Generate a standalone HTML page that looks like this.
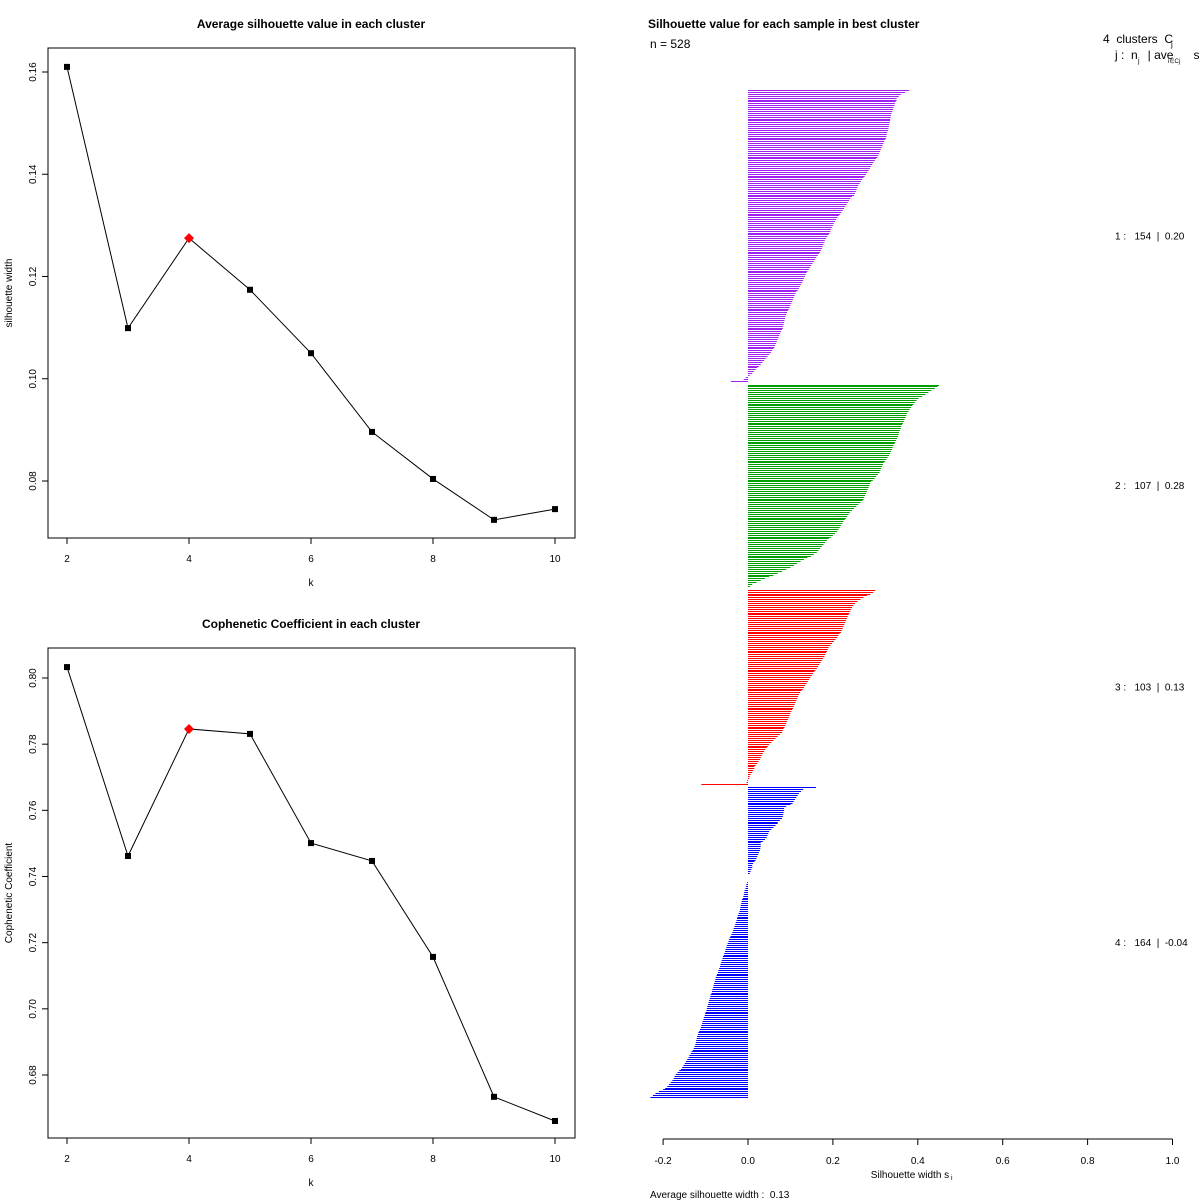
<!DOCTYPE html>
<html><head><meta charset="utf-8"><style>
html,body{margin:0;padding:0;background:#fff;}
svg{display:block;font-family:"Liberation Sans",sans-serif;}
text{white-space:pre;}
</style></head><body>
<svg id="s" width="1200" height="1200" viewBox="0 0 1200 1200" xmlns="http://www.w3.org/2000/svg"></svg>
<script>
const ks=[2,3,4,5,6,7,8,9,10];
const silAvg=[0.1610,0.1099,0.1275,0.1174,0.1050,0.0896,0.0804,0.0724,0.0745];
const coph=[0.8033,0.7462,0.7846,0.7831,0.7501,0.7447,0.7157,0.6734,0.6661];
const bestK=4;
const silTicks=[0.08,0.10,0.12,0.14,0.16];
const copTicks=[0.68,0.70,0.72,0.74,0.76,0.78,0.80];
const kTicks=[2,4,6,8,10];
const sTicks=[-0.2,0,0.2,0.4,0.6,0.8,1.0];
const clusterNames=["1","2","3","4"];
const clusterAvg=["0.20","0.28","0.13","-0.04"];
const clusterColors=["#a020f0","#00a000","#ff0000","#0000ff"];
const c1=[0.38,0.37,0.36,0.355,0.35,0.35,0.348,0.346,0.345,0.343,0.342,0.34,0.338,0.337,0.336,0.335,0.335,0.334,0.333,0.332,0.331,0.33,0.328,0.327,0.326,0.325,0.323,0.321,0.319,0.317,0.315,0.313,0.311,0.309,0.307,0.305,0.302,0.299,0.296,0.293,0.29,0.287,0.284,0.281,0.278,0.275,0.272,0.269,0.266,0.263,0.26,0.258,0.256,0.254,0.252,0.25,0.245,0.241,0.238,0.235,
0.232,0.229,0.226,0.223,0.22,0.217,0.214,0.211,0.208,0.205,0.202,0.2,0.198,0.196,0.194,0.192,0.19,0.187,0.184,0.181,
0.18,0.178,0.176,0.174,0.172,0.17,0.167,0.164,0.161,0.158,0.155,0.152,0.149,0.146,0.143,0.14,0.138,0.136,0.134,0.132,
0.13,0.128,0.125,0.122,0.12,0.117,0.114,0.112,0.11,0.108,0.106,0.104,0.102,0.1,0.098,0.096,0.094,0.092,0.09,0.088,
0.087,0.086,0.085,0.084,0.083,0.082,0.08,0.078,0.076,0.074,0.072,0.07,0.068,0.066,0.064,0.062,0.06,0.057,0.054,0.05,
0.046,0.042,0.038,0.034,0.03,0.026,0.022,0.018,0.014,0.01,0.004,-0.005,-0.01,-0.04];
const c2=[0.45,0.447,0.44,0.432,0.425,0.418,0.41,0.402,0.397,0.393,0.39,0.387,0.384,0.381,0.378,0.375,0.373,0.371,0.369,0.367,0.365,0.363,0.361,0.36,0.358,0.356,0.355,0.353,0.351,0.349,0.347,0.345,0.343,0.341,0.339,0.337,0.335,0.332,0.329,0.326,0.323,0.32,0.318,0.316,0.314,0.312,0.31,0.306,0.302,0.298,0.294,0.29,0.288,0.286,0.284,0.282,0.28,0.278,0.276,0.274,
0.272,0.27,0.265,0.26,0.255,0.25,0.245,0.24,0.237,0.234,0.231,0.228,0.225,0.222,0.219,0.216,0.213,0.21,0.205,0.2,
0.195,0.19,0.186,0.182,0.178,0.174,0.17,0.166,0.162,0.155,0.148,0.14,0.132,0.124,0.116,0.108,0.1,0.09,0.08,0.07,0.06,0.05,0.04,0.03,0.02,0.01,0.005];
const c3=[0.3,0.295,0.288,0.28,0.272,0.265,0.258,0.252,0.248,0.245,0.243,0.241,0.239,0.237,0.235,0.233,0.231,0.229,0.227,0.225,0.223,0.221,0.219,0.216,0.213,0.21,0.206,0.202,0.198,0.194,
0.19,0.188,0.186,0.184,0.182,0.18,0.177,0.174,0.171,0.168,0.165,0.162,0.159,0.156,0.153,0.15,0.147,0.144,0.141,0.138,
0.135,0.132,0.129,0.126,0.123,0.12,0.118,0.116,0.114,0.112,0.11,0.108,0.106,0.104,0.102,0.1,0.098,0.096,0.094,0.092,
0.09,0.088,0.086,0.084,0.082,0.08,0.075,0.07,0.065,0.06,0.055,0.05,0.047,0.044,0.041,0.038,0.035,0.032,0.03,0.028,
0.025,0.022,0.018,0.015,0.015,0.012,0.01,0.006,0.004,0.003,-0.002,-0.003,-0.11];
const c4=[0.16,0.13,0.125,0.12,0.117,0.114,0.111,0.108,0.105,0.1,0.09,0.085,0.085,0.084,0.083,0.082,0.08,0.075,0.07,0.07,0.065,0.06,0.055,0.05,0.048,0.046,0.044,0.04,0.035,0.03,0.03,0.03,0.029,0.028,0.026,0.024,0.022,0.02,0.018,0.015,0.012,0.01,0.01,0.008,0.006,0.004,
0,0,0,0,
-0.002,-0.004,-0.005,-0.006,-0.008,-0.009,-0.01,-0.011,-0.012,-0.014,
-0.015,-0.016,-0.017,-0.018,-0.019,-0.02,-0.022,-0.024,-0.025,-0.026,
-0.027,-0.029,-0.03,-0.032,-0.034,-0.035,-0.037,-0.039,-0.041,-0.043,
-0.045,-0.046,-0.048,-0.05,-0.051,-0.053,-0.054,-0.056,-0.057,-0.059,
-0.06,-0.062,-0.063,-0.065,-0.066,-0.068,-0.07,-0.071,-0.073,-0.074,
-0.076,-0.077,-0.078,-0.08,-0.081,-0.082,-0.084,-0.085,-0.086,-0.088,
-0.089,-0.09,-0.092,-0.093,-0.094,-0.096,-0.097,-0.098,-0.1,-0.101,
-0.102,-0.104,-0.105,-0.107,-0.108,-0.11,-0.111,-0.113,-0.115,-0.117,
-0.118,-0.12,-0.121,-0.122,-0.123,-0.124,-0.126,-0.128,-0.13,-0.133,
-0.135,-0.138,-0.14,-0.143,-0.146,-0.149,-0.152,-0.155,-0.158,-0.162,
-0.166,-0.17,-0.173,-0.175,-0.178,-0.182,-0.186,-0.19,-0.195,-0.2,
-0.21,-0.218,-0.224,-0.23];
const clusters=[c1,c2,c3,c4];

const svg=document.getElementById('s');
const NS="http://www.w3.org/2000/svg";
function el(tag,attrs,parent){const e=document.createElementNS(NS,tag);for(const k in attrs)e.setAttribute(k,attrs[k]);(parent||svg).appendChild(e);return e;}
function txt(str,attrs,parent){const t=el('text',attrs,parent);t.textContent=str;return t;}

function linePanel(name,title,ytitle,top,ymin,ymax,pyMax,pyMin,vals,yt){
  const g=el('g',{});
  
  
  const L=48,R=575,T=top,B=top+490;
  const xs=k=>67+(k-2)*61;
  const ys=v=>pyMax+(ymax-v)/(ymax-ymin)*(pyMin-pyMax);
  const box=el('rect',{x:L,y:T,width:R-L,height:B-T,fill:'none',stroke:'#000','stroke-width':1},g);
  
  
  const tt=txt(title,{x:311,y:T-20,'text-anchor':'middle','font-size':12,'font-weight':'bold'},g);
  
  
  kTicks.forEach(k=>{el('line',{x1:xs(k),x2:xs(k),y1:B,y2:B+6,stroke:'#000'},g);
    const t=txt(String(k),{x:xs(k),y:B+24,'text-anchor':'middle','font-size':10},g);
    
    });
  const xt=txt('k',{x:311,y:B+48,'text-anchor':'middle','font-size':10},g);
  
  
  yt.forEach(v=>{const y=ys(v);el('line',{x1:L,x2:L-6,y1:y,y2:y,stroke:'#000'},g);
    const t=txt(v.toFixed(2),{x:36,y:y,'text-anchor':'middle','font-size':10,transform:`rotate(-90 36 ${y})`},g);
    
    });
  const yc=(T+B)/2;
  const ytl=txt(ytitle,{x:12,y:yc,'text-anchor':'middle','font-size':10,transform:`rotate(-90 12 ${yc})`},g);
  
  
  const pts=vals.map((v,i)=>xs(ks[i])+','+ys(v)).join(' ');
  const pl=el('polyline',{points:pts,fill:'none',stroke:'#000','stroke-width':1},g);
  
  
  vals.forEach((v,i)=>{const x=xs(ks[i]),y=ys(v);let m;
    if(ks[i]===bestK){m=el('polygon',{points:`${x},${y-5} ${x+5},${y} ${x},${y+5} ${x-5},${y}`,fill:'#ff0000'},g);
      }
    else{m=el('rect',{x:x-3,y:y-3,width:6,height:6,fill:'#000'},g);
      }
    });
}
linePanel('silhouette-panel','Average silhouette value in each cluster','silhouette width',48,0.08,0.16,72,481,silAvg,silTicks);
linePanel('cophenetic-panel','Cophenetic Coefficient in each cluster','Cophenetic Coefficient',648,0.68,0.80,678,1075,coph,copTicks);

// silhouette bar plot
const sg=el('g',{});


const sx=v=>748+v*424.5;
const total=clusters.reduce((a,c)=>a+c.length,0)+clusters.length-1;
const y0=90,y1=1099,step=(y1-y0)/total;
let idx=0;
clusters.forEach((c,ci)=>{
  const cg=el('g',{},sg);
  
  
  const startIdx=idx;
  c.forEach(v=>{const y=y0+idx*step;const a=Math.min(sx(0),sx(v)),w=Math.abs(sx(v)-sx(0));
    const r=el('rect',{x:a,y:Math.round(y),width:Math.max(w,0.01),height:1,fill:clusterColors[ci]},cg);
    
    
    idx++;});
  const mid=y0+(startIdx+idx)/2*step;
  const lab=txt(`${clusterNames[ci]} :   ${c.length}  |  ${clusterAvg[ci]}`,{x:1115,y:mid+3,'font-size':10},sg);
  
  
  idx++;
});
const ax=el('line',{x1:sx(-0.2),x2:sx(1),y1:1139,y2:1139,stroke:'#000'},sg);


sTicks.forEach(v=>{el('line',{x1:sx(v),x2:sx(v),y1:1139,y2:1145,stroke:'#000'},sg);
  const t=txt(v.toFixed(1),{x:sx(v),y:1164,'text-anchor':'middle','font-size':10},sg);
  
  });
const xl=txt('Silhouette width s',{x:910,y:1178,'text-anchor':'middle','font-size':10},sg);


el('text',{x:951,y:1180,'font-size':7},sg).textContent='i';
const st=txt('Silhouette value for each sample in best cluster',{x:648,y:28,'font-size':12,'font-weight':'bold'},sg);


const nn=txt('n = 528',{x:650,y:48,'font-size':12},sg);


const h1=txt('4  clusters  C',{x:1103,y:43,'font-size':12},sg);


el('text',{x:1171,y:47,'font-size':8},sg).textContent='j';
const h2=txt('j :  n   | ave      s',{x:1115,y:59,'font-size':12},sg);


el('text',{x:1138,y:63,'font-size':7},sg).textContent='j';
el('text',{x:1168,y:63,'font-size':6},sg).textContent='i∈Cj';
const av=txt('Average silhouette width :  0.13',{x:650,y:1198,'font-size':10},sg);


</script>
</body></html>
